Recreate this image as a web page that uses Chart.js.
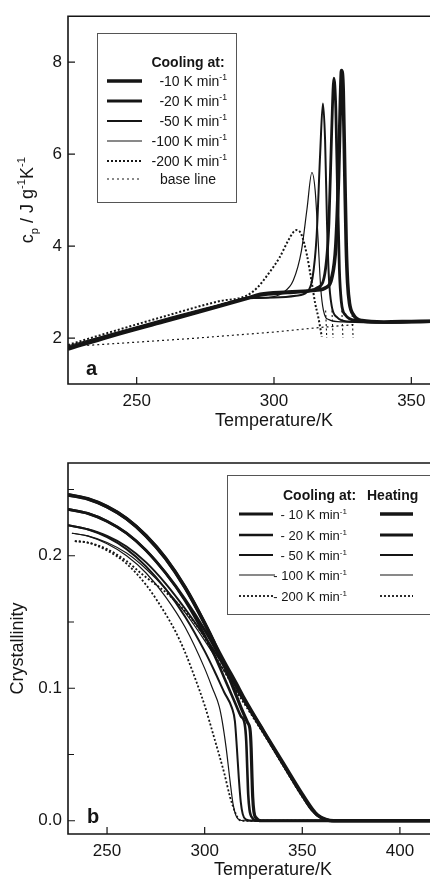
<!DOCTYPE html>
<html><head><meta charset="utf-8">
<script src="https://cdn.jsdelivr.net/npm/chart.js@4.4.1/dist/chart.umd.min.js"></script>
<style>
html,body{margin:0;padding:0;background:#fff;overflow:hidden;width:430px;height:884px;position:relative;}
canvas{display:block;position:absolute;left:0;}
</style></head><body>
<canvas id="cA" width="480" height="445" style="top:0"></canvas>
<canvas id="cB" width="478" height="439" style="top:445px"></canvas>
<script>
// ================= Panel a : heat capacity on cooling =================
const xTicksA = [250, 300, 350];
const yTicksA = [2, 4, 6, 8];
const ratesA = ['-10', '-20', '-50', '-100', '-200'];

const tA10  = [225,240,260,280,290,295,305,315,319,321,322.5,323.5,324.2,324.6,325.2,325.8,326.3,326.8,327.5,329,332,340,350,360,375];
const cpA10 = [1.76,2.03,2.36,2.69,2.86,2.95,3.00,3.04,3.10,3.30,4.00,5.50,7.20,7.82,7.40,5.50,4.00,3.20,2.75,2.50,2.38,2.35,2.36,2.37,2.39];

const tA20  = [225,240,260,280,290,295,305,312,316,318.5,320,321,321.8,322.5,323.2,323.8,324.5,326,330,340,360,375];
const cpA20 = [1.78,2.04,2.37,2.70,2.87,2.93,2.98,3.02,3.10,3.40,4.50,6.50,7.65,7.00,5.00,3.50,2.80,2.50,2.38,2.34,2.36,2.38];

const tA50  = [225,240,260,280,290,300,308,312,314,315.5,316.8,317.8,318.6,319.3,320,321,323,327,340,360,375];
const cpA50 = [1.80,2.06,2.39,2.71,2.86,2.88,2.92,3.00,3.30,4.20,6.00,7.10,6.30,4.50,3.30,2.70,2.45,2.36,2.34,2.36,2.38];

const tA100  = [225,240,260,280,290,298,303,307,310,312,313.8,315,316,317,318,320,325,340,360,375];
const cpA100 = [1.83,2.08,2.41,2.73,2.86,2.88,2.98,3.25,3.90,4.80,5.60,5.20,4.20,3.10,2.60,2.40,2.35,2.34,2.36,2.38];

const tA200  = [225,240,260,280,290,294,298,302,305,307,308.3,310,312,313.6,315,316.1,317.4];
const cpA200 = [1.85,2.12,2.47,2.80,2.92,3.10,3.40,3.75,4.10,4.30,4.35,4.25,3.80,3.26,2.75,2.46,2.03];

const tBase  = [232,250,270,285,300,315,329];
const cpBase = [1.84,1.91,1.99,2.06,2.13,2.22,2.29];

const tDrop  = [318.8,319.2,319.3,321.1,321.5,321.6,324.7,325.1,325.2,328.4,328.8,328.9];
const cpDrop = [2.60,2.00,null,2.60,2.00,null,2.60,2.00,null,2.60,2.00,null];

// ================= Panel b : crystallinity =================
const xTicksB = [250, 300, 350, 400];
const yTicksB = [0, 0.05, 0.10, 0.15, 0.20, 0.25];
const yLabelsB = ['0.0', '', '0.1', '', '0.2', ''];
const ratesB = ['- 10', '- 20', '- 50', '- 100', '- 200'];

// cooling
const tC10 = [230,240,250,260,270,280,290,300,305,310,315,319,322,323.3,323.8,324.2,324.6,325.2,326.5,329,440];
const xC10 = [0.246,0.243,0.237,0.228,0.215,0.198,0.176,0.149,0.134,0.117,0.099,0.084,0.074,0.068,0.055,0.035,0.018,0.007,0.002,0,0];
const tC20 = [230,240,250,260,270,280,290,300,305,310,315,318.5,320.5,321.3,321.8,322.3,323,324.5,327,440];
const xC20 = [0.235,0.232,0.226,0.217,0.204,0.187,0.166,0.140,0.125,0.108,0.091,0.079,0.073,0.060,0.040,0.020,0.008,0.002,0,0];
const tC50 = [230,240,250,260,270,280,290,300,305,310,314,315.5,316.5,317.5,318.5,319.5,321,324,440];
const xC50 = [0.223,0.220,0.214,0.205,0.192,0.175,0.154,0.128,0.113,0.097,0.085,0.075,0.055,0.032,0.014,0.005,0.001,0,0];
const tC100 = [232,240,250,260,270,280,290,300,304,307.5,309,311,313,314.5,316,318,320,440];
const xC100 = [0.217,0.215,0.209,0.200,0.187,0.169,0.146,0.115,0.100,0.086,0.075,0.055,0.030,0.013,0.004,0.0005,0,0];
const tC200 = [233.5,240,250,260,270,280,285,290,295,300,305,310,313,316,318,320,440];
const xC200 = [0.211,0.210,0.204,0.194,0.178,0.156,0.143,0.127,0.108,0.087,0.062,0.036,0.018,0.005,0.0005,0,0];

// heating
const tH10 = [230,240,250,260,270,280,290,300,305,310,316,320,330,340,350,355,358,362,366,440];
const xH10 = [0.246,0.243,0.237,0.228,0.215,0.198,0.176,0.149,0.134,0.120,0.104,0.093,0.068,0.044,0.020,0.009,0.004,0.001,0,0];
const tH20 = [230,240,250,260,270,280,290,300,305,310,316,320,330,340,350,355,360,365,440];
const xH20 = [0.235,0.232,0.226,0.217,0.204,0.187,0.167,0.144,0.131,0.118,0.102,0.092,0.068,0.043,0.019,0.008,0.002,0,0];
const tH50 = [230,240,250,260,270,280,290,300,305,310,316,320,330,340,350,355,360,365,440];
const xH50 = [0.223,0.220,0.215,0.207,0.195,0.179,0.160,0.139,0.128,0.116,0.101,0.091,0.067,0.043,0.019,0.008,0.002,0,0];
const tH100 = [232,240,250,260,270,280,290,300,310,316,320,330,340,350,355,360,365,440];
const xH100 = [0.217,0.215,0.210,0.202,0.190,0.175,0.157,0.136,0.113,0.099,0.090,0.066,0.042,0.018,0.008,0.002,0,0];
const tH200 = [233.5,240,250,260,268,282,290,298,305,310,316,320,330,340,350,355,360,365,440];
const xH200 = [0.211,0.210,0.205,0.196,0.186,0.170,0.158,0.143,0.125,0.113,0.098,0.089,0.066,0.042,0.018,0.008,0.002,0,0];

// ================= rendering =================
const FONT = "'Liberation Sans', Arial, Helvetica, sans-serif";
const INK = '#151515';
Chart.defaults.font.family = FONT;
Chart.defaults.color = INK;

function pts(T, V) { return T.map((t, i) => ({ x: t, y: V[i] })); }
function ds(label, T, V, w, dash) {
  return { label, data: pts(T, V), borderColor: INK, backgroundColor: INK, borderWidth: w,
    borderDash: dash || [], borderCapStyle: 'butt', pointRadius: 0, pointHoverRadius: 0,
    fill: false, cubicInterpolationMode: 'monotone', spanGaps: false };
}
const W = [3.6, 2.8, 2.0, 1.2, 2.0];
const D = [[], [], [], [], [2, 2]];

function textRun(ctx, parts, x, y, align, size, bold) {
  const f = (s) => (bold ? 'bold ' : '') + s + 'px ' + FONT;
  let total = 0;
  parts.forEach(p => { ctx.font = f(p.s ? size * 0.62 : size); total += ctx.measureText(p.t).width; });
  let cx = align === 'right' ? x - total : align === 'center' ? x - total / 2 : x;
  ctx.textBaseline = 'alphabetic'; ctx.textAlign = 'left';
  parts.forEach(p => {
    ctx.font = f(p.s ? size * 0.62 : size);
    const dy = p.s === 'sup' ? -size * 0.42 : p.s === 'sub' ? size * 0.25 : 0;
    ctx.fillText(p.t, cx, y + dy);
    cx += ctx.measureText(p.t).width;
  });
}
function sample(ctx, x1, x2, y, dset) {
  ctx.save();
  ctx.strokeStyle = INK; ctx.lineWidth = dset.borderWidth; ctx.setLineDash(dset.borderDash || []);
  ctx.beginPath(); ctx.moveTo(x1, y); ctx.lineTo(x2, y); ctx.stroke();
  ctx.restore();
}
function frame(chart) {
  const { ctx, chartArea: a, scales: { x, y } } = chart;
  ctx.save();
  ctx.strokeStyle = INK; ctx.lineWidth = 1.6; ctx.setLineDash([]);
  ctx.beginPath();
  ctx.moveTo(a.right + 5, a.top); ctx.lineTo(a.left, a.top); ctx.lineTo(a.left, a.bottom); ctx.lineTo(a.right + 5, a.bottom);
  ctx.stroke();
  ctx.lineWidth = 1.2;
  ctx.beginPath();
  x.ticks.forEach(t => { const p = x.getPixelForValue(t.value); ctx.moveTo(p, a.bottom); ctx.lineTo(p, a.bottom - 7); });
  y.ticks.forEach(t => { const p = y.getPixelForValue(t.value); const l = t.label === '' ? 6 : 7; ctx.moveTo(a.left, p); ctx.lineTo(a.left + l, p); });
  ctx.stroke();
  ctx.restore();
}
function baseScales(xmin, xmax, xt, ymin, ymax, yt, xh, yLabels) {
  return {
    x: { type: 'linear', min: xmin, max: xmax,
      afterBuildTicks: s => { s.ticks = xt.map(v => ({ value: v })); },
      afterFit: s => { s.height = xh; },
      grid: { display: false, drawTicks: false }, border: { display: false },
      ticks: { padding: 7, font: { size: 17 }, color: INK, autoSkip: false, maxRotation: 0 },
      title: { display: true, text: 'Temperature/K', font: { size: 18 }, color: INK, padding: { top: 0, bottom: 0 } } },
    y: { type: 'linear', min: ymin, max: ymax,
      afterBuildTicks: s => { s.ticks = yt.map(v => ({ value: v })); },
      afterFit: s => { s.width = 68; },
      grid: { display: false, drawTicks: false }, border: { display: false },
      ticks: { padding: 6, font: { size: 17 }, color: INK, autoSkip: false,
        callback: yLabels ? ((v, i) => yLabels[i]) : (v => String(v)) } }
  };
}

// ---------- chart a ----------
const dsA = [
  ds('-10 K/min', tA10, cpA10, W[0], D[0]),
  ds('-20 K/min', tA20, cpA20, W[1], D[1]),
  ds('-50 K/min', tA50, cpA50, W[2], D[2]),
  ds('-100 K/min', tA100, cpA100, W[3], D[3]),
  ds('-200 K/min', tA200, cpA200, W[4], D[4]),
  ds('base line', tBase, cpBase, 1.2, [2, 3]),
  ds('base line', tDrop, cpDrop, 1.1, [2, 2.5])
];
dsA[5].cubicInterpolationMode = 'default'; dsA[5].tension = 0;
dsA[6].cubicInterpolationMode = 'default'; dsA[6].tension = 0;

const decorA = {
  id: 'decorA',
  afterDraw(chart) {
    frame(chart);
    const { ctx, chartArea: a } = chart;
    ctx.save();
    ctx.fillStyle = INK;
    ctx.save();
    ctx.translate(27, (a.top + a.bottom) / 2);
    ctx.rotate(-Math.PI / 2);
    textRun(ctx, [{ t: 'c' }, { t: 'p', s: 'sub' }, { t: ' / J g' }, { t: '-1', s: 'sup' }, { t: 'K' }, { t: '-1', s: 'sup' }], 0, 6, 'center', 18, false);
    ctx.restore();
    textRun(ctx, [{ t: 'a' }], 86, 375, 'left', 20, true);
    ctx.fillStyle = '#fff'; ctx.fillRect(97, 33, 139, 169);
    ctx.strokeStyle = '#555'; ctx.lineWidth = 1; ctx.strokeRect(97.5, 33.5, 139, 169);
    ctx.fillStyle = INK;
    textRun(ctx, [{ t: 'Cooling at:' }], 188, 67, 'center', 14, true);
    const rows = [81, 101, 121, 141, 161];
    rows.forEach((ry, i) => {
      sample(ctx, 107, 142, ry, chart.data.datasets[i]);
      ctx.fillStyle = INK;
      textRun(ctx, [{ t: ratesA[i] + ' K min' }, { t: '-1', s: 'sup' }], 227, ry + 5, 'right', 14, false);
    });
    sample(ctx, 107, 142, 179, chart.data.datasets[5]);
    ctx.fillStyle = INK;
    textRun(ctx, [{ t: 'base line' }], 188, 184, 'center', 14, false);
    ctx.restore();
  }
};
new Chart(document.getElementById('cA'), {
  type: 'line',
  data: { datasets: dsA },
  options: {
    responsive: false, devicePixelRatio: 1, animation: false, parsing: true,
    layout: { padding: { top: 14, left: 0, right: 0, bottom: 0 } },
    plugins: { legend: { display: false }, tooltip: { enabled: false } },
    scales: (() => { const s = baseScales(225, 375, xTicksA, 1, 9, yTicksA, 61, null); s.x.title.padding = { top: 0, bottom: 13 }; return s; })()
  },
  plugins: [decorA]
});

// ---------- chart b ----------
const dsB = [
  ds('heating 10', tH10, xH10, W[0], D[0]),
  ds('heating 20', tH20, xH20, W[1], D[1]),
  ds('heating 50', tH50, xH50, W[2], D[2]),
  ds('heating 100', tH100, xH100, W[3], D[3]),
  ds('heating 200', tH200, xH200, 1.8, D[4]),
  ds('cooling -10', tC10, xC10, W[0] - 0.4, D[0]),
  ds('cooling -20', tC20, xC20, W[1] - 0.2, D[1]),
  ds('cooling -50', tC50, xC50, W[2], D[2]),
  ds('cooling -100', tC100, xC100, W[3], D[3]),
  ds('cooling -200', tC200, xC200, 1.8, D[4])
];
const decorB = {
  id: 'decorB',
  afterDraw(chart) {
    frame(chart);
    const { ctx, chartArea: a } = chart;
    ctx.save();
    ctx.fillStyle = INK;
    ctx.save();
    ctx.translate(17, (a.top + a.bottom) / 2);
    ctx.rotate(-Math.PI / 2);
    textRun(ctx, [{ t: 'Crystallinity' }], 0, 6, 'center', 18, false);
    ctx.restore();
    textRun(ctx, [{ t: 'b' }], 87, 378, 'left', 20, true);
    ctx.fillStyle = '#fff'; ctx.fillRect(227, 30, 210, 139);
    ctx.strokeStyle = '#555'; ctx.lineWidth = 1; ctx.strokeRect(227.5, 30.5, 210, 139);
    ctx.fillStyle = INK;
    textRun(ctx, [{ t: 'Cooling at:' }], 283, 55, 'left', 14, true);
    textRun(ctx, [{ t: 'Heating' }], 367, 55, 'left', 14, true);
    const rows = [69, 90, 110, 130, 151];
    rows.forEach((ry, i) => {
      sample(ctx, 239, i >= 3 ? 275 : 273, ry, chart.data.datasets[5 + i]);
      sample(ctx, 380, 413, ry, chart.data.datasets[i]);
      ctx.fillStyle = INK;
      textRun(ctx, [{ t: ratesB[i] + ' K min' }, { t: '-1', s: 'sup' }], 347, ry + 5, 'right', 13, false);
    });
    ctx.restore();
  }
};
new Chart(document.getElementById('cB'), {
  type: 'line',
  data: { datasets: dsB },
  options: {
    responsive: false, devicePixelRatio: 1, animation: false,
    layout: { padding: { top: 18, left: 0, right: 0, bottom: 0 } },
    plugins: { legend: { display: false }, tooltip: { enabled: false } },
    scales: (() => { const s = baseScales(230, 440, xTicksB, -0.01, 0.27, yTicksB, 50, yLabelsB); s.x.title.padding = { top: 0, bottom: 3 }; return s; })()
  },
  plugins: [decorB]
});
</script>
</body></html>
